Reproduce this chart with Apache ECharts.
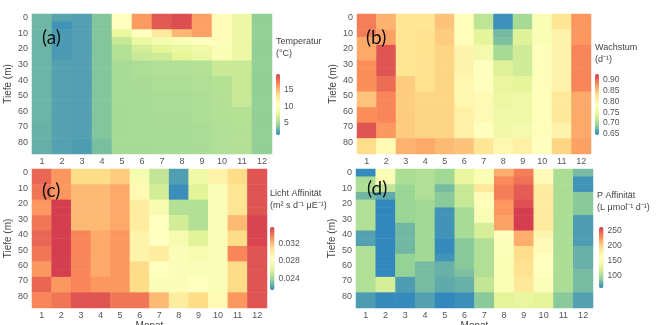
<!DOCTYPE html>
<html>
<head>
<meta charset="utf-8">
<script src="https://cdn.jsdelivr.net/npm/echarts@6/dist/echarts.min.js"></script>
<style>
  html, body { margin: 0; padding: 0; background: #fff; }
  #chart { width: 658px; height: 325px; }
</style>
</head>
<body>
<div id="chart"></div>
<script>
// Monate und Tiefenstufen (5 m)
const months = ['1', '2', '3', '4', '5', '6', '7', '8', '9', '10', '11', '12'];
const depths = [0, 5, 10, 15, 20, 25, 30, 35, 40, 45, 50, 55, 60, 65, 70, 75, 80, 85];

// (a) Temperatur, eine Spalte pro Monat, Werte von 0 m bis 85 m
const tempCols = [
  [3.3, 3.3, 3.2, 3.2, 3.2, 3.2, 3.2, 3.2, 3.2, 3.2, 3.2, 3.2, 3.2, 3.2, 3.1, 3.1, 3.0, 3.0],
  [2.6, 1.9, 2.2, 2.2, 2.2, 2.2, 2.5, 2.5, 2.5, 2.5, 2.5, 2.5, 2.5, 2.5, 2.5, 2.5, 2.5, 2.5],
  [2.4, 2.4, 2.4, 2.4, 2.4, 2.4, 2.4, 2.4, 2.4, 2.4, 2.4, 2.4, 2.4, 2.4, 2.4, 2.4, 2.3, 2.3],
  [3.9, 3.9, 3.9, 3.9, 3.9, 3.9, 3.9, 3.9, 3.9, 3.9, 3.9, 3.9, 3.9, 3.9, 3.9, 3.9, 3.6, 3.6],
  [10.5, 10.5, 8.0, 6.2, 5.6, 5.6, 5.1, 5.1, 5.1, 5.1, 5.0, 5.0, 5.0, 5.0, 5.0, 5.0, 5.0, 5.0],
  [16.0, 16.0, 10.5, 8.2, 6.8, 6.4, 5.3, 5.3, 5.2, 5.2, 5.1, 5.1, 5.1, 5.1, 5.1, 5.1, 5.0, 5.0],
  [18.5, 18.5, 12.5, 9.3, 7.6, 6.6, 5.4, 5.4, 5.3, 5.3, 5.2, 5.2, 5.2, 5.2, 5.1, 5.1, 5.1, 5.1],
  [18.9, 18.9, 15.0, 9.8, 8.2, 7.6, 5.4, 5.4, 5.3, 5.3, 5.2, 5.2, 5.2, 5.2, 5.1, 5.1, 5.1, 5.1],
  [15.8, 15.8, 15.8, 10.5, 8.8, 8.2, 5.5, 5.5, 5.4, 5.4, 5.3, 5.3, 5.3, 5.3, 5.2, 5.2, 5.2, 5.2],
  [10.8, 10.8, 10.8, 10.8, 9.8, 9.8, 6.4, 6.4, 5.6, 5.6, 5.5, 5.5, 5.5, 5.5, 5.4, 5.4, 5.4, 5.4],
  [8.4, 8.4, 8.4, 8.4, 8.4, 8.4, 6.3, 6.3, 6.3, 6.3, 6.3, 6.3, 5.6, 5.6, 5.5, 5.5, 5.5, 5.5],
  [4.3, 4.3, 4.3, 4.3, 4.3, 4.3, 4.3, 4.3, 4.3, 4.3, 4.3, 4.3, 4.3, 4.3, 4.3, 4.3, 4.3, 4.3]
];

// (b) Wachstum (d^-1)
const growthCols = [
  [0.89, 0.89, 0.89, 0.865, 0.865, 0.865, 0.88, 0.88, 0.88, 0.88, 0.85, 0.85, 0.88, 0.88, 0.915, 0.915, 0.835, 0.835],
  [0.86, 0.86, 0.87, 0.87, 0.915, 0.915, 0.915, 0.915, 0.9, 0.9, 0.885, 0.885, 0.885, 0.885, 0.875, 0.875, 0.795, 0.795],
  [0.825, 0.825, 0.825, 0.825, 0.825, 0.825, 0.825, 0.825, 0.845, 0.845, 0.845, 0.845, 0.845, 0.845, 0.845, 0.845, 0.86, 0.86],
  [0.825, 0.825, 0.83, 0.83, 0.83, 0.83, 0.83, 0.83, 0.83, 0.83, 0.84, 0.84, 0.84, 0.84, 0.84, 0.84, 0.865, 0.865],
  [0.85, 0.85, 0.845, 0.845, 0.84, 0.84, 0.84, 0.84, 0.84, 0.84, 0.84, 0.84, 0.84, 0.84, 0.84, 0.84, 0.855, 0.855],
  [0.78, 0.78, 0.78, 0.78, 0.805, 0.805, 0.805, 0.805, 0.8, 0.8, 0.8, 0.8, 0.81, 0.81, 0.81, 0.81, 0.85, 0.85],
  [0.715, 0.715, 0.74, 0.74, 0.765, 0.765, 0.785, 0.785, 0.785, 0.785, 0.795, 0.795, 0.795, 0.795, 0.785, 0.785, 0.825, 0.825],
  [0.65, 0.65, 0.675, 0.68, 0.70, 0.70, 0.735, 0.735, 0.745, 0.745, 0.75, 0.75, 0.755, 0.755, 0.76, 0.76, 0.80, 0.80],
  [0.70, 0.70, 0.735, 0.735, 0.725, 0.725, 0.725, 0.725, 0.74, 0.74, 0.755, 0.755, 0.755, 0.755, 0.765, 0.765, 0.81, 0.81],
  [0.775, 0.775, 0.775, 0.775, 0.78, 0.78, 0.78, 0.78, 0.78, 0.78, 0.78, 0.78, 0.78, 0.78, 0.78, 0.78, 0.785, 0.785],
  [0.825, 0.825, 0.805, 0.805, 0.805, 0.805, 0.805, 0.805, 0.805, 0.805, 0.82, 0.82, 0.82, 0.82, 0.805, 0.805, 0.84, 0.84],
  [0.875, 0.875, 0.875, 0.875, 0.885, 0.885, 0.885, 0.885, 0.885, 0.885, 0.865, 0.865, 0.865, 0.865, 0.865, 0.865, 0.87, 0.87]
];

// (c) Licht Affinität
const lightCols = [
  [0.0345, 0.0345, 0.034, 0.034, 0.033, 0.033, 0.034, 0.034, 0.0345, 0.0345, 0.034, 0.034, 0.033, 0.033, 0.0345, 0.0345, 0.0335, 0.0335],
  [0.033, 0.033, 0.033, 0.033, 0.0357, 0.0357, 0.0357, 0.0357, 0.0357, 0.0357, 0.0357, 0.0357, 0.0357, 0.0357, 0.033, 0.033, 0.034, 0.034],
  [0.031, 0.031, 0.032, 0.032, 0.032, 0.032, 0.032, 0.032, 0.0335, 0.0335, 0.0335, 0.0335, 0.0335, 0.0335, 0.0335, 0.0335, 0.035, 0.035],
  [0.031, 0.031, 0.032, 0.032, 0.032, 0.032, 0.032, 0.032, 0.0325, 0.0325, 0.0325, 0.0325, 0.0325, 0.0325, 0.033, 0.033, 0.035, 0.035],
  [0.0315, 0.0315, 0.0325, 0.0325, 0.0325, 0.0325, 0.0325, 0.0325, 0.033, 0.033, 0.033, 0.033, 0.033, 0.033, 0.033, 0.033, 0.034, 0.034],
  [0.0275, 0.0275, 0.029, 0.029, 0.030, 0.030, 0.030, 0.030, 0.0295, 0.0295, 0.0295, 0.0295, 0.031, 0.031, 0.031, 0.031, 0.034, 0.034],
  [0.025, 0.025, 0.0255, 0.0255, 0.0275, 0.0275, 0.0285, 0.0285, 0.0285, 0.0285, 0.030, 0.030, 0.0285, 0.0285, 0.028, 0.028, 0.032, 0.032],
  [0.022, 0.022, 0.0215, 0.0215, 0.0245, 0.0245, 0.0255, 0.0255, 0.0275, 0.0275, 0.028, 0.028, 0.028, 0.028, 0.028, 0.028, 0.030, 0.030],
  [0.027, 0.027, 0.026, 0.026, 0.0245, 0.0245, 0.0245, 0.0245, 0.026, 0.026, 0.0275, 0.0275, 0.028, 0.028, 0.0285, 0.0285, 0.031, 0.031],
  [0.0295, 0.0295, 0.028, 0.028, 0.028, 0.028, 0.028, 0.028, 0.028, 0.028, 0.028, 0.028, 0.028, 0.028, 0.028, 0.028, 0.029, 0.029],
  [0.031, 0.031, 0.0305, 0.0305, 0.0305, 0.0305, 0.032, 0.032, 0.031, 0.031, 0.0335, 0.0335, 0.031, 0.031, 0.031, 0.031, 0.033, 0.033],
  [0.035, 0.035, 0.035, 0.035, 0.035, 0.035, 0.0355, 0.0355, 0.0355, 0.0355, 0.035, 0.035, 0.035, 0.035, 0.035, 0.035, 0.035, 0.035]
];

// (d) P Affinität
const phosCols = [
  [58, 100, 102, 78, 102, 102, 102, 102, 68, 68, 102, 102, 102, 102, 102, 102, 66, 66],
  [150, 150, 110, 72, 56, 56, 54, 54, 54, 54, 54, 54, 54, 54, 118, 118, 58, 58],
  [100, 100, 92, 92, 92, 92, 92, 78, 78, 78, 78, 90, 90, 90, 66, 66, 58, 58],
  [102, 102, 102, 102, 95, 95, 95, 95, 95, 95, 95, 95, 80, 80, 80, 80, 68, 68],
  [95, 95, 80, 86, 86, 62, 62, 62, 62, 58, 58, 62, 75, 75, 72, 72, 52, 52],
  [130, 130, 112, 112, 112, 98, 98, 98, 98, 86, 86, 86, 86, 82, 75, 75, 60, 60],
  [152, 152, 185, 165, 158, 150, 150, 118, 118, 102, 102, 102, 102, 102, 110, 110, 86, 86],
  [215, 230, 235, 235, 225, 225, 220, 220, 160, 155, 155, 152, 152, 152, 152, 152, 125, 125],
  [235, 240, 250, 250, 255, 265, 265, 265, 215, 215, 195, 195, 190, 190, 185, 185, 130, 130],
  [165, 165, 182, 182, 182, 182, 182, 182, 172, 165, 165, 160, 160, 160, 155, 155, 125, 125],
  [100, 100, 100, 100, 100, 100, 100, 100, 100, 100, 100, 100, 100, 100, 100, 100, 86, 86],
  [80, 62, 62, 86, 86, 86, 66, 66, 66, 66, 75, 75, 75, 80, 80, 80, 68, 68]
];

// Farbskalen-Beschriftungen
const tempTicks = [5, 10, 15];
const growthTicks = [0.65, 0.70, 0.75, 0.80, 0.85, 0.90];
const lightTicks = [0.024, 0.028, 0.032];
const phosTicks = [100, 150, 200, 250];

// Spectral (umgekehrt)
const PAL = ['#3288bd', '#99d594', '#e6f598', '#ffffbf', '#fee08b', '#fc8d59', '#d53e4f'];
const TXT = '#555';
const FONT = 'Liberation Sans, Arial, sans-serif';

const panels = [
  { tag: '(a)', tagPos: [42, 28], cols: tempCols, min: 1.5, max: 19.5, ticks: tempTicks, dec: 0,
    grid: { left: 32, top: 14, width: 240, height: 140 },
    bar: { left: 276, top: 74, width: 4, height: 61 },
    title: ['Temperatur', '(°C)'], titlePos: [276, 36], xName: '' },
  { tag: '(b)', tagPos: [366, 28], cols: growthCols, min: 0.645, max: 0.928, ticks: growthTicks, dec: 2,
    grid: { left: 357, top: 14, width: 234, height: 140 },
    bar: { left: 595, top: 74, width: 4, height: 61 },
    title: ['Wachstum', '(d⁻¹)'], titlePos: [595, 42], xName: '' },
  { tag: '(c)', tagPos: [42, 181], cols: lightCols, min: 0.0213, max: 0.0357, ticks: lightTicks, dec: 3,
    grid: { left: 32, top: 169, width: 235, height: 139 },
    bar: { left: 270, top: 227, width: 4.5, height: 63 },
    title: ['Licht Affinität', '(m² s d⁻¹ μE⁻¹)'], titlePos: [270, 188], xName: 'Monat' },
  { tag: '(d)', tagPos: [367, 179], cols: phosCols, min: 57, max: 263, ticks: phosTicks, dec: 0,
    grid: { left: 356, top: 169, width: 237, height: 139 },
    bar: { left: 599, top: 227, width: 4.5, height: 61 },
    title: ['P Affinität', '(L μmol⁻¹ d⁻¹)'], titlePos: [597, 190], xName: 'Monat' }
];

function toCells (cols) {
  const out = [];
  cols.forEach((col, i) => col.forEach((v, j) => out.push([i, j, v])));
  return out;
}

const grid = [], xAxis = [], yAxis = [], series = [], visualMap = [], title = [];

panels.forEach((p, i) => {
  grid.push(Object.assign({ outerBoundsMode: 'none' }, p.grid));
  xAxis.push({
    type: 'category', gridIndex: i, data: months,
    axisLine: { show: false }, axisTick: { show: false }, splitLine: { show: false },
    axisLabel: { color: TXT, fontSize: 9, fontFamily: FONT, margin: 3 },
    name: p.xName, nameLocation: 'middle', nameGap: 13, nameMoveOverlap: false,
    nameTextStyle: { color: '#444', fontSize: 10, fontFamily: FONT }
  });
  yAxis.push({
    type: 'category', gridIndex: i, data: depths, inverse: true,
    axisLine: { show: false }, axisTick: { show: false }, splitLine: { show: false },
    axisLabel: { color: TXT, fontSize: 9, fontFamily: FONT, margin: 4, interval: 1 },
    name: 'Tiefe (m)', nameLocation: 'middle', nameGap: 19, nameMoveOverlap: false,
    nameTextStyle: { color: '#444', fontSize: 10, fontFamily: FONT }
  });
  series.push({
    type: 'heatmap', xAxisIndex: i, yAxisIndex: i,
    data: toCells(p.cols), emphasis: { disabled: true }, silent: true
  });
  visualMap.push({
    type: 'continuous', seriesIndex: i, min: p.min, max: p.max,
    left: p.bar.left, top: p.bar.top, itemWidth: p.bar.width, itemHeight: p.bar.height,
    padding: 0, calculable: false, hoverLink: false, orient: 'vertical',
    inRange: { color: PAL }
  });
  title.push({
    text: p.tag, left: p.tagPos[0], top: p.tagPos[1], padding: 0,
    textStyle: { fontSize: 19, fontWeight: 'normal', color: '#111', fontFamily: 'Lato, sans-serif' }
  });
  title.push({
    text: p.title[0] + '\n' + p.title[1], left: p.titlePos[0], top: p.titlePos[1], padding: 0,
    textStyle: { fontSize: 9, fontWeight: 'normal', color: '#444', lineHeight: 12, fontFamily: FONT }
  });
});

// Achsen für die Beschriftung der Farbskalen
panels.forEach((p, i) => {
  const g = grid.length;
  grid.push({ outerBoundsMode: 'none', left: p.bar.left, top: p.bar.top, width: p.bar.width, height: p.bar.height });
  xAxis.push({ type: 'category', gridIndex: g, data: [''], show: false });
  yAxis.push({
    type: 'value', gridIndex: g, min: p.min, max: p.max, position: 'right',
    axisLine: { show: false }, axisTick: { show: false }, splitLine: { show: false },
    axisLabel: {
      customValues: p.ticks, margin: 4, color: TXT, fontSize: 8.5, fontFamily: FONT,
      formatter: v => v.toFixed(p.dec)
    }
  });
});

const myChart = echarts.init(document.getElementById('chart'));
myChart.setOption({
  animation: false,
  backgroundColor: '#fff',
  title, grid, xAxis, yAxis, visualMap, series
});
</script>
</body>
</html>
